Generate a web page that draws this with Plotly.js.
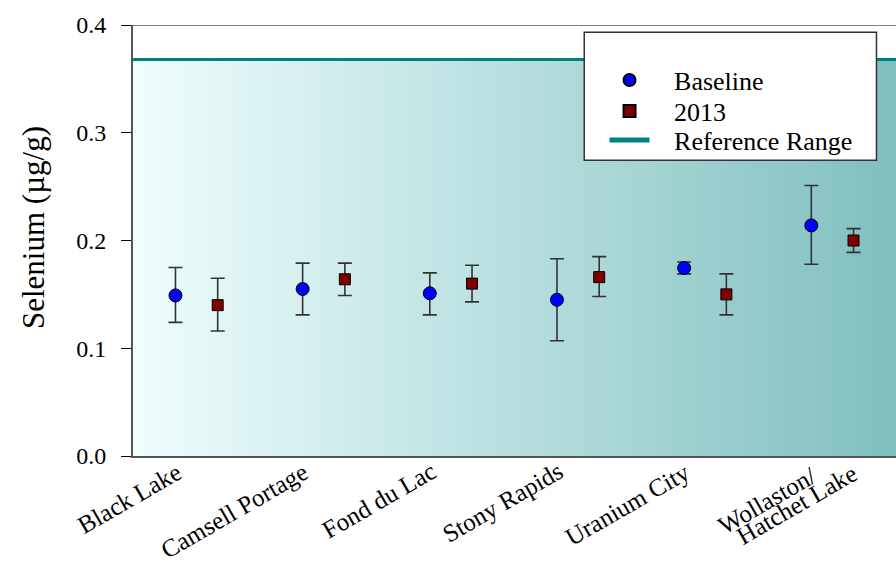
<!DOCTYPE html>
<html>
<head>
<meta charset="utf-8">
<script src="https://cdn.plot.ly/plotly-3.0.1.min.js"></script>
<style>html,body{margin:0;padding:0;background:#fff;}#chart{width:896px;height:567px;}</style>
</head>
<body>
<div id="chart"></div>
<script>
const categories = ["Black Lake", "Camsell Portage", "Fond du Lac", "Stony Rapids", "Uranium City", "Wollaston/<br>Hatchet Lake"];
const baselineMean = [0.149, 0.155, 0.151, 0.145, 0.1745, 0.214];
const baselineHigh = [0.175, 0.179, 0.170, 0.183, 0.180, 0.251];
const baselineLow  = [0.124, 0.131, 0.131, 0.107, 0.169, 0.178];
const mean2013 = [0.140, 0.164, 0.160, 0.166, 0.150, 0.200];
const high2013 = [0.165, 0.179, 0.177, 0.185, 0.169, 0.211];
const low2013  = [0.116, 0.149, 0.143, 0.148, 0.131, 0.189];
const referenceRange = 0.368;
const yTicks = [0.0, 0.1, 0.2, 0.3, 0.4];
const seriesNames = ["Baseline", "2013", "Reference Range"];
const yTitle = "Selenium (µg/g)";

const idx = categories.map((c, i) => i);
const off = 0.166;
const xBase = idx.map(i => i - off);
const x2013 = idx.map(i => i + off);

const font = "'Liberation Serif', 'Times New Roman', serif";
const errStyle = {type: 'data', symmetric: false, color: '#333333', thickness: 1.6, width: 7};
const pad = '\u00a0\u00a0\u00a0';

const traces = [
  {
    x: [-0.5, 5.5], y: [referenceRange, referenceRange],
    mode: 'none', fill: 'tozeroy', showlegend: false, hoverinfo: 'skip',
    fillgradient: {type: 'horizontal', colorscale: [[0, '#effdfd'], [1, '#80bfbf']]}
  },
  {
    x: xBase, y: baselineMean, name: pad + seriesNames[0], type: 'scatter', mode: 'markers',
    legend: 'legend',
    marker: {symbol: 'circle', size: 13, color: '#0000ff', line: {color: '#000000', width: 1}},
    error_y: Object.assign({}, errStyle, {
      array: baselineHigh.map((v, i) => v - baselineMean[i]),
      arrayminus: baselineLow.map((v, i) => baselineMean[i] - v)
    })
  },
  {
    x: x2013, y: mean2013, name: pad + seriesNames[1], type: 'scatter', mode: 'markers',
    legend: 'legend2',
    marker: {symbol: 'square', size: 11, color: '#800000', line: {color: '#000000', width: 1}},
    error_y: Object.assign({}, errStyle, {
      array: high2013.map((v, i) => v - mean2013[i]),
      arrayminus: low2013.map((v, i) => mean2013[i] - v)
    })
  },
  {
    x: [-0.5, 5.5], y: [referenceRange, referenceRange], name: pad + seriesNames[2],
    legend: 'legend3',
    type: 'scatter', mode: 'lines', line: {color: '#008080', width: 3}
  }
];

// category labels: each text line is placed as a rotated annotation at its category
const singleShift = [-8, 1];
const multiShifts = [[-9, -3], [32, -1]];
const annotations = [];
categories.forEach((c, i) => {
  const lines = c.split('<br>');
  lines.forEach((t, k) => {
    const s = lines.length > 1 ? multiShifts[k] : singleShift;
    annotations.push({
      x: i, xref: 'x', y: 0, yref: 'paper',
      text: t, showarrow: false, textangle: -30,
      xanchor: 'right', yanchor: 'top',
      xshift: s[0], yshift: s[1],
      font: {family: font, size: 25, color: '#000000'}
    });
  });
});
annotations.push({
  x: 0, xref: 'paper', y: 0.529, yref: 'paper', xshift: -100,
  text: yTitle, showarrow: false, textangle: -90,
  xanchor: 'center', yanchor: 'middle',
  font: {family: font, size: 31, color: '#000000'}
});

function legendAt(y) {
  return {
    x: 0.618, y: y, xanchor: 'left', yanchor: 'middle',
    bgcolor: 'rgba(0,0,0,0)', borderwidth: 0, itemwidth: 40,
    font: {family: font, size: 26, color: '#000000'},
    tracegroupgap: 0, itemsizing: 'constant'
  };
}

const layout = {
  width: 896, height: 567,
  margin: {l: 133, r: 0, t: 25, b: 111},
  paper_bgcolor: '#ffffff', plot_bgcolor: '#ffffff',
  font: {family: font, size: 26, color: '#000000'},
  showlegend: true,
  legend: legendAt(0.872),
  legend2: legendAt(0.800),
  legend3: legendAt(0.733),
  xaxis: {
    range: [-0.5, 5.5], tickmode: 'array', tickvals: idx, showticklabels: false,
    ticks: '', showgrid: false, zeroline: false,
    showline: true, linecolor: '#555555', linewidth: 2
  },
  yaxis: {
    range: [0, 0.4], tickmode: 'array', tickvals: yTicks,
    ticktext: yTicks.map(v => v.toFixed(1)),
    ticks: 'outside', ticklen: 10, tickwidth: 1, tickcolor: '#000000',
    ticklabelstandoff: 10,
    showgrid: false, zeroline: false, showline: true, linecolor: '#555555', linewidth: 2,
    tickfont: {family: font, size: 24, color: '#000000'}
  },
  annotations: annotations,
  shapes: [
    {type: 'line', xref: 'paper', yref: 'y', x0: 0, x1: 1, y0: 0.4, y1: 0.4, line: {color: '#000000', width: 1.2}},
    {type: 'rect', xref: 'paper', yref: 'paper', x0: 0.5914, x1: 0.9744, y0: 0.686, y1: 0.9833,
     fillcolor: '#ffffff', line: {color: '#333333', width: 1.5}, layer: 'above'}
  ]
};

Plotly.newPlot('chart', traces, layout, {displayModeBar: false, staticPlot: true});
</script>
</body>
</html>
